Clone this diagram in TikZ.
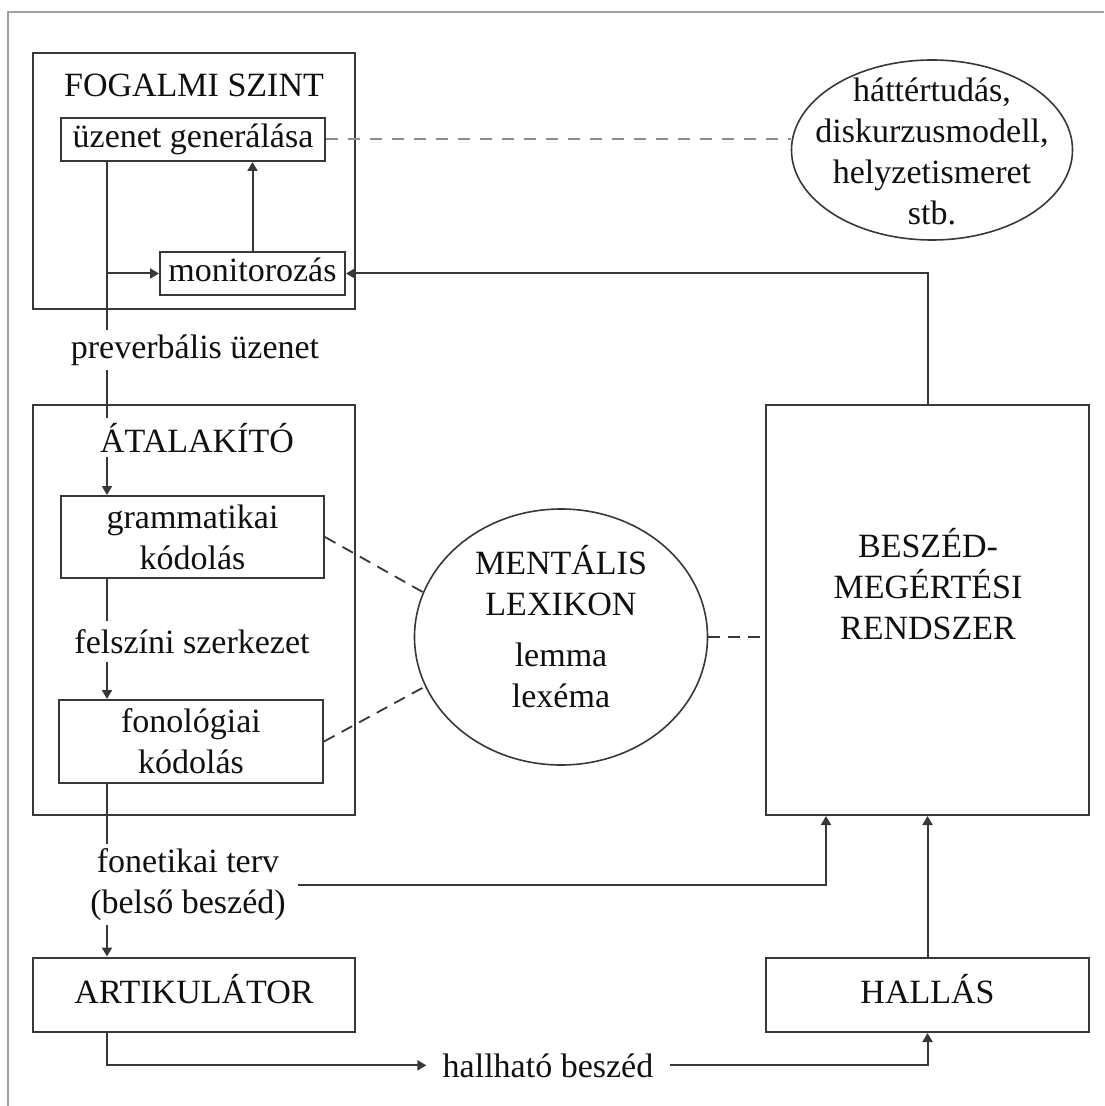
\documentclass[tikz,border=0pt]{standalone}
\usepackage{fontspec}
\setmainfont{Liberation Serif}
\usetikzlibrary{shapes.geometric,arrows.meta,calc}
\definecolor{ln}{HTML}{383838}
\definecolor{frm}{HTML}{A0A0A0}
\definecolor{dsh}{HTML}{8C8C8C}
\definecolor{txt}{HTML}{101010}
\begin{document}
\begin{tikzpicture}[x=0.5pt,y=-0.5pt,
  every node/.style={font=\fontsize{17}{20.5}\selectfont, text=txt},
  box/.style={draw=ln, line width=1pt, rectangle, inner sep=0pt},
  onebox/.style={box, text height=12pt, text depth=3.5pt},
  twobox/.style={box, align=center},
  lbl/.style={inner sep=2pt},
  conn/.style={draw=ln, line width=1pt},
  arr/.style={conn, -{Triangle[length=4.5pt,width=5pt]}},
  dshgray/.style={draw=dsh, line width=1pt, dash pattern=on 6pt off 5pt},
  dshdark/.style={draw=ln, line width=0.9pt, dash pattern=on 6pt off 4pt},
  ell/.style={ellipse, draw=ln, line width=0.8pt, inner sep=0pt},
]
\useasboundingbox (0,0) rectangle (1104,1106);
\fill[white] (0,0) rectangle (1104,1106);
\draw[frm, line width=1pt] (8,1106) -- (8,12) -- (1104,12);

% upper-left block
\node[box, minimum width=161pt, minimum height=128pt] (fog) at (194,181) {};
\node[anchor=base] (fogt) at (194,97) {FOGALMI SZINT};
\node[onebox, minimum width=132pt, minimum height=21.5pt] (uz) at (193,139.5) {üzenet generálása};
\node[onebox, minimum width=92.5pt, minimum height=21.5pt] (mon) at (252.5,273.5) {monitorozás};

% background knowledge
\node[ell, minimum width=140.5pt, minimum height=90pt] (hat) at (932,150) {};
\node[align=center] (hatt) at (932,151.5) {háttértudás,\\diskurzusmodell,\\helyzetismeret\\stb.};

\node[lbl, anchor=base] (prev) at (195,358) {preverbális üzenet};

% formulator
\node[box, minimum width=161pt, minimum height=205pt] (atal) at (194,610) {};
\node[lbl, anchor=base] (atalt) at (197,452) {ÁTALAKÍTÓ};
\node[twobox, minimum width=131.5pt, minimum height=41pt] (gram) at (192.5,537) {grammatikai\\kódolás};
\node[anchor=base, inner sep=4pt] (felsz) at (192,653) {felszíni szerkezet};
\node[twobox, minimum width=132pt, minimum height=41.5pt] (fono) at (191,741.5) {fonológiai\\kódolás};

% lexicon
\node[ell, minimum width=146.5pt, minimum height=128pt] (ment) at (561,637) {};
\node[align=center] (mentt) at (561,626.5) {MENTÁLIS\\LEXIKON\\[5pt]lemma\\lexéma};

% comprehension
\node[box, minimum width=161.5pt, minimum height=205pt] (besz) at (927.5,610) {};
\node[align=center] (beszt) at (928,584) {BESZÉD-\\MEGÉRTÉSI\\RENDSZER};

\node[align=center, inner xsep=6pt, inner ysep=2pt] (fon) at (188,884.5) {fonetikai terv\\(belső beszéd)};
\node[onebox, minimum width=161pt, minimum height=37pt] (art) at (194,994.5) {ARTIKULÁTOR};
\node[onebox, minimum width=161.5pt, minimum height=37pt] (hal) at (927.5,995) {HALLÁS};
\node[anchor=base, inner xsep=8pt, inner ysep=2pt] (hb) at (548,1077) {hallható beszéd};

\coordinate (sp) at (107,0);
\coordinate (fx) at (826,0);

% spine
\draw[conn] (uz.south -| sp) -- (prev.north -| sp);
\draw[conn] (prev.south -| sp) -- (atalt.north -| sp);
\draw[arr] (atalt.south -| sp) -- (gram.north -| sp);
\draw[conn] (gram.south -| sp) -- (felsz.north -| sp);
\draw[arr] (felsz.south -| sp) -- (fono.north -| sp);
\draw[conn] (fono.south -| sp) -- (fon.north -| sp);
\draw[arr] (fon.south -| sp) -- (art.north -| sp);
\draw[arr] (art.south -| sp) |- (hb.west);
\draw[arr] (hb.east) -| (hal.south);
\draw[arr] (hal.north) -- (besz.south);
\draw[arr] (fon.east) -| (besz.south -| fx);
\draw[arr] (besz.north) |- (mon.east);
\draw[arr] (mon.north) -- (mon.north |- uz.south);
\draw[arr] (sp |- mon.west) -- (mon.west);

% dashed links
\draw[dshgray] (uz.east) -- (uz.east -| hat.west);
\draw[dshdark] (gram.east) -- (ment.162);
\draw[dshdark] (fono.east) -- (ment.200);
\draw[dshdark] (ment.east) -- (ment.east -| besz.west);
\end{tikzpicture}
\end{document}
